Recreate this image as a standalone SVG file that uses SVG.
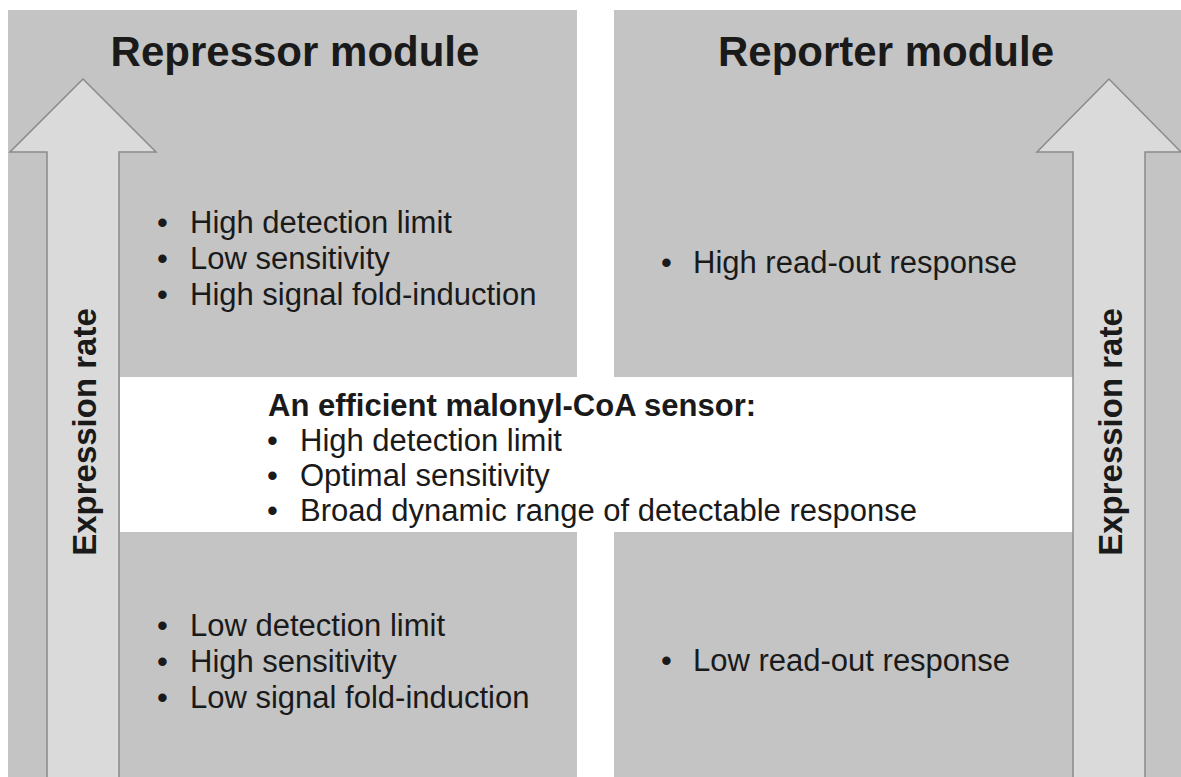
<svg xmlns="http://www.w3.org/2000/svg" width="1181" height="777" viewBox="0 0 1181 777">
  <style>
    .panel { fill: #c4c4c4; }
    .band { fill: #ffffff; }
    .arrow { fill: #dadada; stroke: #8a8a8a; stroke-width: 1.5; stroke-linejoin: miter; }
    .title { font-family: "Liberation Sans", Arial, sans-serif; font-weight: bold; font-size: 42px; fill: #1a1a1a; }
    .item { font-family: "Liberation Sans", Arial, sans-serif; font-size: 31px; fill: #1a1a1a; }
    .head { font-family: "Liberation Sans", Arial, sans-serif; font-weight: bold; font-size: 31px; fill: #1a1a1a; }
    .axis { font-family: "Liberation Sans", Arial, sans-serif; font-weight: bold; font-size: 33px; fill: #1a1a1a; }
  </style>

  <rect width="1181" height="777" fill="#ffffff"/>

  <!-- Repressor module panel -->
  <g id="repressor-module">
    <rect class="panel" x="8" y="10" width="569" height="767"/>
    <text class="title" x="295" y="66" text-anchor="middle">Repressor module</text>
    <g id="repressor-high">
      <text class="item" x="157" y="233">•</text><text class="item" x="190" y="233">High detection limit</text>
      <text class="item" x="157" y="269">•</text><text class="item" x="190" y="269">Low sensitivity</text>
      <text class="item" x="157" y="305">•</text><text class="item" x="190" y="305">High signal fold-induction</text>
    </g>
    <g id="repressor-low">
      <text class="item" x="157" y="636">•</text><text class="item" x="190" y="636">Low detection limit</text>
      <text class="item" x="157" y="672">•</text><text class="item" x="190" y="672">High sensitivity</text>
      <text class="item" x="157" y="708">•</text><text class="item" x="190" y="708">Low signal fold-induction</text>
    </g>
  </g>

  <!-- Reporter module panel -->
  <g id="reporter-module">
    <rect class="panel" x="614" y="10" width="567" height="767"/>
    <text class="title" x="886" y="66" text-anchor="middle">Reporter module</text>
    <g id="reporter-high">
      <text class="item" x="661" y="273">•</text><text class="item" x="693" y="273">High read-out response</text>
    </g>
    <g id="reporter-low">
      <text class="item" x="661" y="671">•</text><text class="item" x="693" y="671">Low read-out response</text>
    </g>
  </g>

  <!-- Optimal sensor band across both panels -->
  <g id="sensor">
    <rect class="band" x="120" y="377" width="953" height="155"/>
    <text class="head" x="268" y="416">An efficient malonyl-CoA sensor:</text>
    <text class="item" x="267" y="451">•</text><text class="item" x="300" y="451">High detection limit</text>
    <text class="item" x="267" y="486">•</text><text class="item" x="300" y="486">Optimal sensitivity</text>
    <text class="item" x="267" y="521">•</text><text class="item" x="300" y="521">Broad dynamic range of detectable response</text>
  </g>

  <!-- Expression-rate arrows -->
  <g id="arrow-left">
    <path class="arrow" d="M47,778 L47,152 L10,152 L83,79 L156,152 L119,152 L119,778"/>
    <text class="axis" transform="translate(96,432) rotate(-90)" text-anchor="middle">Expression rate</text>
  </g>
  <g id="arrow-right">
    <path class="arrow" d="M1073,778 L1073,152 L1037,152 L1109,79 L1181,152 L1145,152 L1145,778"/>
    <text class="axis" transform="translate(1122,432) rotate(-90)" text-anchor="middle">Expression rate</text>
  </g>
</svg>
